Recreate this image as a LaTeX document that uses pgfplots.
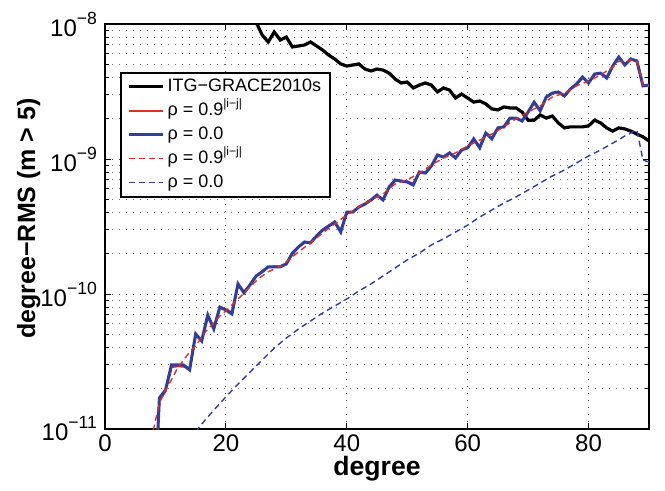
\documentclass[border=0pt]{standalone}
\usepackage{fontspec}
\setmainfont{Liberation Sans}
\usepackage{pgfplots}
\usepackage{pgfplotstable}
\pgfplotsset{compat=1.18}

\definecolor{mlBlue}{RGB}{48,62,158}
\definecolor{mlRed}{RGB}{228,46,36}
\newcommand\pw[1]{10\raisebox{0.5em}{\fontsize{8.8}{10}\selectfont #1}}

% ITG-GRACE2010s
\pgfplotstableread{
deg rms
24 1.38e-8
25 1.035e-8
26 8.29e-9
27 7.36e-9
28 8.72e-9
29 7.61e-9
30 8.01e-9
31 6.76e-9
32 6.87e-9
33 6.99e-9
34 7.36e-9
35 6.87e-9
36 6.42e-9
37 5.89e-9
38 5.51e-9
39 5.06e-9
40 4.88e-9
41 4.97e-9
42 5.06e-9
43 4.64e-9
44 4.49e-9
45 4.64e-9
46 4.56e-9
47 4.33e-9
48 3.91e-9
49 3.66e-9
50 3.72e-9
51 3.36e-9
52 3.53e-9
53 3.66e-9
54 3.53e-9
55 3.14e-9
56 3.36e-9
57 3.24e-9
58 2.83e-9
59 3.03e-9
60 2.83e-9
61 2.64e-9
62 2.69e-9
63 2.56e-9
64 2.35e-9
65 2.31e-9
66 2.43e-9
67 2.39e-9
68 2.39e-9
69 2.23e-9
70 1.94e-9
71 1.94e-9
72 2.12e-9
73 2.01e-9
74 2.08e-9
75 1.85e-9
76 1.70e-9
77 1.73e-9
78 1.73e-9
79 1.73e-9
80 1.76e-9
81 1.94e-9
82 1.85e-9
83 1.70e-9
84 1.61e-9
85 1.70e-9
86 1.67e-9
87 1.61e-9
88 1.53e-9
89 1.46e-9
90 1.36e-9
}\itg

% rho = 0.0, solid
\pgfplotstableread{
deg rms
8 1.88e-12
9 1.70e-11
10 1.94e-11
11 2.98e-11
12 2.98e-11
13 2.98e-11
14 2.74e-11
15 5.06e-11
16 4.49e-11
17 6.99e-11
18 5.51e-11
19 8.01e-11
20 7.61e-11
21 7.11e-11
22 1.19e-10
23 1.02e-10
24 1.17e-10
25 1.36e-10
26 1.46e-10
27 1.59e-10
28 1.59e-10
29 1.59e-10
30 1.67e-10
31 2.01e-10
32 2.23e-10
33 2.43e-10
34 2.39e-10
35 2.69e-10
36 2.98e-10
37 3.19e-10
38 3.42e-10
39 2.88e-10
40 4.05e-10
41 4.05e-10
42 4.41e-10
43 4.64e-10
44 4.97e-10
45 5.41e-10
46 4.97e-10
47 6.20e-10
48 6.99e-10
49 6.87e-10
50 6.76e-10
51 6.42e-10
52 8.01e-10
53 7.87e-10
54 8.88e-10
55 1.071e-9
56 1.035e-9
57 1.11e-9
58 1.017e-9
59 1.166e-9
60 1.21e-9
61 1.41e-9
62 1.21e-9
63 1.56e-9
64 1.41e-9
65 1.70e-9
66 1.73e-9
67 2.01e-9
68 2.01e-9
69 1.91e-9
70 2.23e-9
71 2.64e-9
72 2.27e-9
73 2.88e-9
74 3.08e-9
75 3.14e-9
76 2.93e-9
77 3.30e-9
78 3.59e-9
79 4.05e-9
80 3.66e-9
81 4.26e-9
82 4.33e-9
83 3.98e-9
84 4.88e-9
85 5.70e-9
86 4.97e-9
87 5.51e-9
88 5.32e-9
89 3.48e-9
90 3.53e-9
}\zero

% rho = 0.9^|i-j|, solid
\pgfplotstableread{
deg rms
8 1.80e-12
9 1.62e-11
10 1.90e-11
11 2.88e-11
12 2.92e-11
13 2.90e-11
14 2.80e-11
15 4.90e-11
16 4.60e-11
17 6.80e-11
18 5.70e-11
19 7.90e-11
20 7.70e-11
21 7.30e-11
22 1.16e-10
23 1.04e-10
24 1.17e-10
25 1.35e-10
26 1.47e-10
27 1.58e-10
28 1.60e-10
29 1.60e-10
30 1.68e-10
31 1.98e-10
32 2.22e-10
33 2.41e-10
34 2.41e-10
35 2.68e-10
36 2.96e-10
37 3.18e-10
38 3.38e-10
39 2.95e-10
40 3.98e-10
41 4.07e-10
42 4.39e-10
43 4.64e-10
44 4.95e-10
45 5.35e-10
46 5.05e-10
47 6.10e-10
48 6.92e-10
49 6.87e-10
50 6.80e-10
51 6.55e-10
52 7.90e-10
53 7.90e-10
54 8.85e-10
55 1.06e-9
56 1.04e-9
57 1.10e-9
58 1.03e-9
59 1.16e-9
60 1.22e-9
61 1.39e-9
62 1.24e-9
63 1.54e-9
64 1.43e-9
65 1.69e-9
66 1.74e-9
67 1.99e-9
68 2.00e-9
69 1.93e-9
70 2.22e-9
71 2.60e-9
72 2.32e-9
73 2.85e-9
74 3.06e-9
75 3.13e-9
76 2.97e-9
77 3.29e-9
78 3.57e-9
79 4.00e-9
80 3.70e-9
81 4.22e-9
82 4.32e-9
83 4.02e-9
84 4.85e-9
85 5.62e-9
86 5.02e-9
87 5.48e-9
88 5.34e-9
89 3.52e-9
90 3.50e-9
}\corr

% rho = 0.9^|i-j|, dashed
\pgfplotstableread{
deg rms
7 4.97e-12
8 9.83e-12
9 1.56e-11
10 1.94e-11
11 2.31e-11
12 2.83e-11
13 3.24e-11
14 3.72e-11
15 4.12e-11
16 4.80e-11
17 5.51e-11
18 6.10e-11
19 6.87e-11
20 7.49e-11
21 8.29e-11
22 9.18e-11
23 1.017e-10
24 1.13e-10
25 1.25e-10
26 1.36e-10
27 1.46e-10
28 1.53e-10
29 1.61e-10
30 1.73e-10
32 2.05e-10
34 2.39e-10
36 2.83e-10
38 3.30e-10
40 3.85e-10
42 4.41e-10
44 4.97e-10
46 5.51e-10
48 6.53e-10
50 6.99e-10
52 7.87e-10
54 9.03e-10
56 1.017e-9
58 1.11e-9
60 1.25e-9
62 1.38e-9
64 1.53e-9
66 1.73e-9
68 1.98e-9
70 2.23e-9
72 2.47e-9
74 2.88e-9
76 3.08e-9
78 3.48e-9
80 3.78e-9
82 4.19e-9
84 4.80e-9
85 5.30e-9
86 5.20e-9
87 5.40e-9
88 5.30e-9
89 3.53e-9
90 3.48e-9
}\corrdash

% rho = 0.0, dashed
\pgfplotstableread{
deg rms
14 8.29e-12
15 9.50e-12
16 1.089e-11
18 1.38e-11
20 1.73e-11
22 2.15e-11
24 2.64e-11
26 3.24e-11
28 3.98e-11
30 4.72e-11
32 5.51e-11
34 6.31e-11
36 7.23e-11
38 8.15e-11
40 9.18e-11
42 1.053e-10
44 1.186e-10
46 1.36e-10
48 1.56e-10
50 1.79e-10
52 2.01e-10
54 2.31e-10
56 2.56e-10
58 2.88e-10
60 3.24e-10
62 3.72e-10
64 4.19e-10
66 4.72e-10
68 5.23e-10
70 5.89e-10
72 6.64e-10
74 7.49e-10
76 8.29e-10
78 9.34e-10
80 1.053e-9
82 1.166e-9
84 1.31e-9
86 1.48e-9
87 1.56e-9
88 1.64e-9
89 9.83e-10
90 9.50e-10
}\zerodash

\begin{document}
\begin{tikzpicture}
\useasboundingbox (-52.5pt,-31pt) rectangle (280pt,214.5pt);
\begin{axis}[
    scale only axis,
    width=272pt, height=202.5pt,
    ymode=log,
    xmin=0, xmax=90, ymin=1e-11, ymax=1e-8,
    xtick={0,20,40,60,80},
    xticklabels={0,20,40,60,80},
    ytick={1e-11,1e-10,1e-9,1e-8},
    yticklabels={\pw{−11},\pw{−10},\pw{−9},\pw{−8}},
    minor ytick={2e-11,3e-11,4e-11,5e-11,6e-11,7e-11,8e-11,9e-11,
                 2e-10,3e-10,4e-10,5e-10,6e-10,7e-10,8e-10,9e-10,
                 2e-9,3e-9,4e-9,5e-9,6e-9,7e-9,8e-9,9e-9},
    tick align=inside,
    major tick length=3pt, minor tick length=2pt,
    tick style={black, line width=0.5pt},
    axis line style={line width=0.6pt},
    tick label style={font=\fontsize{12}{14}\selectfont},
    yticklabel style={xshift=-0.5pt},
    xticklabel style={inner sep=1.5pt, yshift=-1pt},
    xmajorgrids, ymajorgrids, yminorgrids,
    major grid style={line width=0.5pt, black!70, dash pattern=on 0.7pt off 2.8pt},
    minor grid style={line width=0.5pt, black!55, dash pattern=on 0.7pt off 2.8pt},
    xlabel={\bfseries degree},
    ylabel={\bfseries degree−RMS (m > 5)},
    x label style={font=\fontsize{13.3}{15}\selectfont, inner sep=0.5pt, at={(axis description cs:0.5,-0.097)}, anchor=center},
    y label style={font=\fontsize{12.5}{14}\selectfont, at={(axis description cs:-0.1400,0.52)}, anchor=center},
    legend cell align=left,
    legend style={at={(rel axis cs:0.0276,0.882)}, anchor=north west,
        draw=black, line width=1pt, fill=white,
        font=\fontsize{9}{10}\selectfont,
        inner xsep=3pt, inner ysep=1pt, row sep=0pt,
        nodes={inner sep=1.6pt, text height=6.7pt, text depth=2.1pt}},
]
\addplot[black, line width=1.6pt] table[x=deg, y=rms] {\itg};
\addlegendentry{ITG−GRACE2010s}
\addplot[mlRed, line width=1.1pt] table[x=deg, y=rms] {\corr};
\addlegendentry{ρ = 0.9\textsuperscript{|i−j|}}
\addplot[mlBlue, line width=1.5pt] table[x=deg, y=rms] {\zero};
\addlegendentry{ρ = 0.0}
\addplot[mlRed, line width=0.7pt, dash pattern=on 3pt off 2pt,
    legend image code/.code={\draw[mlRed, line width=0.7pt, dash pattern=on 3pt off 2pt] (0cm,0cm) -- (0.6cm,0cm);}]
    table[x=deg, y=rms] {\corrdash};
\addlegendentry{ρ = 0.9\textsuperscript{|i−j|}}
\addplot[mlBlue, line width=0.7pt, dash pattern=on 3pt off 2pt,
    legend image code/.code={\draw[mlBlue, line width=0.7pt, dash pattern=on 3pt off 2pt] (0cm,0cm) -- (0.6cm,0cm);}]
    table[x=deg, y=rms] {\zerodash};
\addlegendentry{ρ = 0.0}
\end{axis}
\end{tikzpicture}
\end{document}
